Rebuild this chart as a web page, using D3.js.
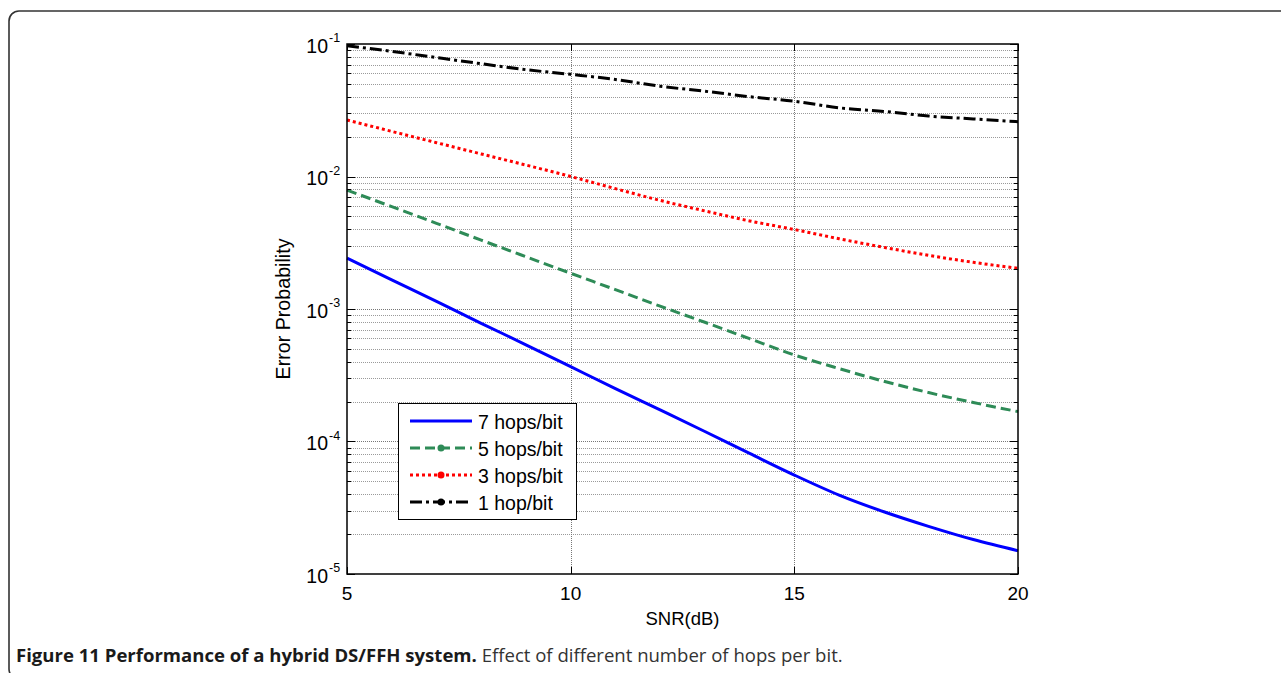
<!DOCTYPE html>
<html>
<head>
<meta charset="utf-8">
<script src="https://cdn.jsdelivr.net/npm/d3@7"></script>
<style>
  html, body { margin: 0; padding: 0; background: #fff; }
  svg { display: block; }
</style>
</head>
<body>
<svg id="fig" width="1281" height="673"></svg>
<script>
// SNR values (dB) at which each curve is sampled
const snr = [5, 6, 7, 8, 9, 10, 11, 12, 13, 14, 15, 16, 17, 18, 19, 20];

// Error probability for each number of hops per bit
const hops7 = [2.42e-3, 1.66e-3, 1.14e-3, 7.80e-4, 5.37e-4, 3.67e-4, 2.51e-4, 1.73e-4,
               1.19e-4, 8.13e-5, 5.58e-5, 3.94e-5, 2.95e-5, 2.29e-5, 1.82e-5, 1.5e-5];
const hops5 = [7.9e-3, 5.92e-3, 4.43e-3, 3.31e-3, 2.48e-3, 1.86e-3, 1.40e-3, 1.05e-3,
               7.94e-4, 5.97e-4, 4.50e-4, 3.55e-4, 2.85e-4, 2.34e-4, 1.97e-4, 1.68e-4];
const hops3 = [2.67e-2, 2.19e-2, 1.80e-2, 1.48e-2, 1.22e-2, 1.00e-2, 8.1e-3, 6.6e-3,
               5.5e-3, 4.62e-3, 3.98e-3, 3.39e-3, 2.92e-3, 2.54e-3, 2.25e-3, 2.03e-3];
const hops1 = [0.097, 0.088, 0.079, 0.071, 0.064, 0.059, 0.054, 0.048,
               0.044, 0.040, 0.037, 0.033, 0.031, 0.0286, 0.0272, 0.0259];

const seriesNames = ["7 hops/bit", "5 hops/bit", "3 hops/bit", "1 hop/bit"];
const xTicks = [5, 10, 15, 20];
const yExponents = [-1, -2, -3, -4, -5];

const xLabel = "SNR(dB)";
const yLabel = "Error Probability";
const captionBold = "Figure 11 Performance of a hybrid DS/FFH system.";
const captionRest = " Effect of different number of hops per bit.";

// Styles per series
const styles = [
  { color: "#0000ff", dash: null,          marker: false },
  { color: "#2e8b57", dash: "10,5",        marker: true  },
  { color: "#ff0000", dash: "3,3",         marker: true  },
  { color: "#000000", dash: "12,4,3,4",    marker: true  }
];
const seriesValues = [hops7, hops5, hops3, hops1];

const svg = d3.select("#fig");
const plot = { left: 347, right: 1018, top: 44, bottom: 574 };

const x = d3.scaleLinear().domain([5, 20]).range([plot.left, plot.right]);
const y = d3.scaleLog().domain([1e-5, 1e-1]).range([plot.bottom, plot.top]);

const axisFont = "'Liberation Sans', Arial, Helvetica, sans-serif";

// Set a text element's font size so that it spans the given width
function fitWidth(sel, width) {
  sel.attr("font-size", 20);
  const w = sel.node().getComputedTextLength();
  sel.attr("font-size", 20 * width / w);
  return sel;
}

// Outer figure frame (rounded corner, open to the right and bottom)
svg.append("rect")
  .attr("x", 9).attr("y", 11)
  .attr("width", 1320).attr("height", 668)
  .attr("rx", 10).attr("ry", 10)
  .attr("fill", "none")
  .attr("stroke", "#333")
  .attr("stroke-width", 1.6);

// Grid values: every decade plus minor steps 2..9
const gridY = [];
for (let e = -5; e <= -1; e++) {
  for (let m = 1; m <= 9; m++) {
    const v = m * Math.pow(10, e);
    if (v >= 1e-5 && v <= 1e-1 + 1e-12) gridY.push({ v, major: m === 1 });
  }
}

const grid = svg.append("g");
grid.selectAll("line.gy")
  .data(gridY.filter(d => d.v > 1e-5 && d.v < 0.1))
  .join("line")
  .attr("x1", plot.left).attr("x2", plot.right)
  .attr("y1", d => Math.round(y(d.v)) + 0.5)
  .attr("y2", d => Math.round(y(d.v)) + 0.5)
  .attr("stroke", d => d.major ? "#777" : "#9a9a9a")
  .attr("stroke-width", 1)
  .attr("stroke-dasharray", "1,1");

grid.selectAll("line.gx")
  .data(xTicks.filter(t => t > 5 && t < 20))
  .join("line")
  .attr("x1", d => Math.round(x(d)) + 0.5).attr("x2", d => Math.round(x(d)) + 0.5)
  .attr("y1", plot.top).attr("y2", plot.bottom)
  .attr("stroke", "#777")
  .attr("stroke-width", 1)
  .attr("stroke-dasharray", "1,1");

// Curves
const line = d3.line()
  .x((d, i) => x(snr[i]))
  .y(d => y(d))
  .curve(d3.curveMonotoneX);

const curves = svg.append("g");
seriesValues.forEach((vals, k) => {
  curves.append("path")
    .datum(vals)
    .attr("d", line)
    .attr("fill", "none")
    .attr("stroke", styles[k].color)
    .attr("stroke-width", 3)
    .attr("stroke-dasharray", styles[k].dash)
    .attr("stroke-linejoin", "round");
});

// Axes box with inward ticks on all sides
const axes = svg.append("g").attr("font-family", axisFont).attr("fill", "#000");

const tickLines = [];
gridY.forEach(d => {
  const len = d.major ? 8 : 4;
  const yy = Math.round(y(d.v)) + 0.5;
  tickLines.push([plot.left, yy, plot.left + len, yy]);
  tickLines.push([plot.right, yy, plot.right - len, yy]);
});
xTicks.forEach(t => {
  const xx = Math.round(x(t)) + 0.5;
  tickLines.push([xx, plot.bottom, xx, plot.bottom - 7]);
  tickLines.push([xx, plot.top, xx, plot.top + 7]);
});
axes.selectAll("line.tick")
  .data(tickLines)
  .join("line")
  .attr("x1", d => d[0]).attr("y1", d => d[1])
  .attr("x2", d => d[2]).attr("y2", d => d[3])
  .attr("stroke", "#000").attr("stroke-width", 1);

axes.append("rect")
  .attr("x", plot.left).attr("y", plot.top)
  .attr("width", plot.right - plot.left)
  .attr("height", plot.bottom - plot.top)
  .attr("fill", "none")
  .attr("stroke", "#000")
  .attr("stroke-width", 1.5);

// X tick labels
axes.selectAll("text.xt")
  .data(xTicks)
  .join("text")
  .attr("x", d => x(d))
  .attr("y", 600)
  .attr("text-anchor", "middle")
  .attr("font-size", 19)
  .text(d => d);

// Y tick labels: 10 with superscript exponent
yExponents.forEach(e => {
  const yy = y(Math.pow(10, e));
  axes.append("text")
    .attr("x", 328)
    .attr("y", yy + 8.5)
    .attr("text-anchor", "end")
    .attr("font-size", 19.5)
    .text("10");
  axes.append("text")
    .attr("x", 329)
    .attr("y", yy - 2)
    .attr("text-anchor", "start")
    .attr("font-size", 12.5)
    .text(String(e));
});

// Axis titles
axes.append("text")
  .attr("x", (plot.left + plot.right) / 2)
  .attr("y", 625)
  .attr("text-anchor", "middle")
  .attr("font-size", 18.5)
  .text(xLabel);

fitWidth(axes.append("text")
  .attr("transform", `translate(290, ${(plot.top + plot.bottom) / 2}) rotate(-90)`)
  .attr("text-anchor", "middle")
  .text(yLabel), 141);

// Legend
const legend = svg.append("g").attr("font-family", axisFont);
legend.append("rect")
  .attr("x", 398.5).attr("y", 403.5)
  .attr("width", 178).attr("height", 116)
  .attr("fill", "#fff")
  .attr("stroke", "#000")
  .attr("stroke-width", 1);

const rowY = [421, 448, 475, 502];
seriesNames.forEach((name, k) => {
  const ry = rowY[k];
  legend.append("line")
    .attr("x1", 410).attr("x2", 472)
    .attr("y1", ry).attr("y2", ry)
    .attr("stroke", styles[k].color)
    .attr("stroke-width", 3)
    .attr("stroke-dasharray", styles[k].dash);
  if (styles[k].marker) {
    legend.append("circle")
      .attr("cx", 441).attr("cy", ry)
      .attr("r", 3.5)
      .attr("fill", styles[k].color);
  }
  legend.append("text")
    .attr("x", 478)
    .attr("y", ry + 8)
    .attr("font-size", 19.5)
    .attr("fill", "#000")
    .text(name);
});

// Caption, scaled to its column width
const cap = svg.append("text")
  .attr("x", 16)
  .attr("y", 662)
  .attr("font-family", "'Open Sans', 'Noto Sans', sans-serif")
  .attr("fill", "#1a1a1a");
cap.append("tspan").attr("font-weight", "bold").text(captionBold);
cap.append("tspan").attr("fill", "#333").text(captionRest);
fitWidth(cap, 827);
</script>
</body>
</html>
